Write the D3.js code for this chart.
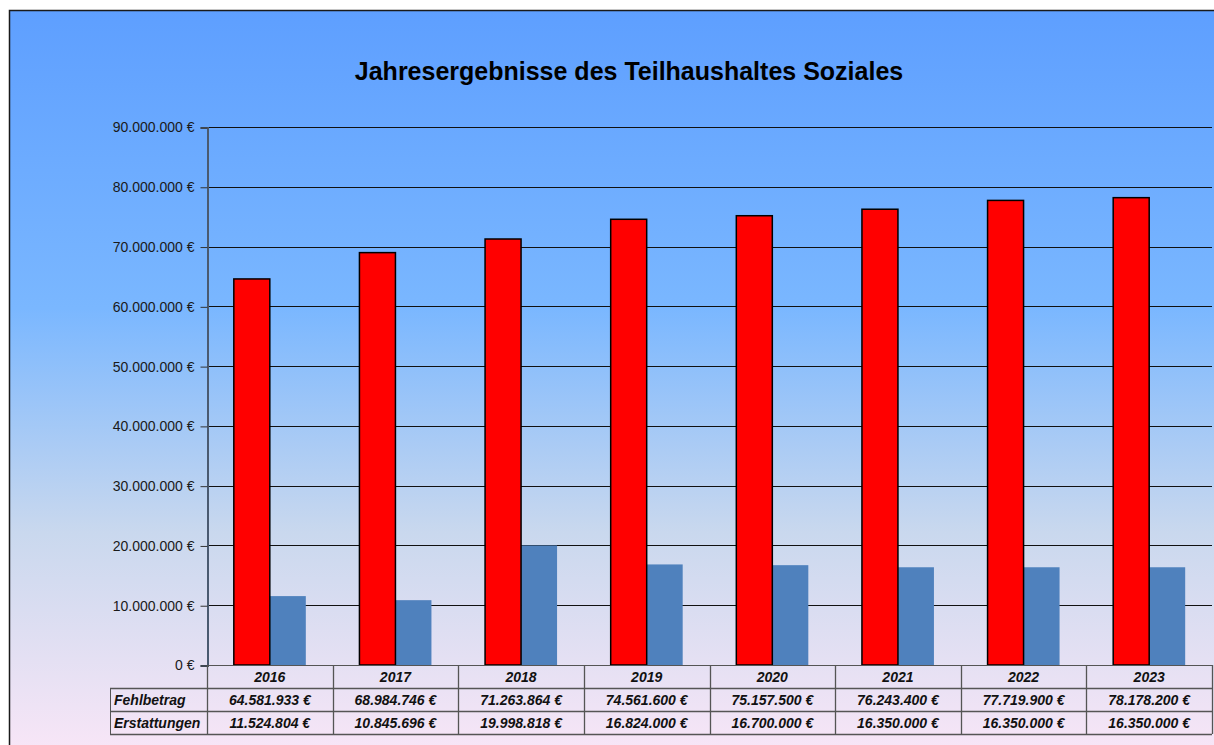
<!DOCTYPE html>
<html>
<head>
<meta charset="utf-8">
<script src="https://cdn.jsdelivr.net/npm/d3@7"></script>
<style>
  body { margin: 0; background: #fff; }
  svg { display: block; font-family: "Liberation Sans", Arial, sans-serif; }
</style>
</head>
<body>
<div id="chart"></div>
<script>
const years = ["2016", "2017", "2018", "2019", "2020", "2021", "2022", "2023"];
const fehlbetrag = [64581933, 68984746, 71263864, 74561600, 75157500, 76243400, 77719900, 78178200];
const erstattungen = [11524804, 10845696, 19998818, 16824000, 16700000, 16350000, 16350000, 16350000];
const yTicks = [0, 10000000, 20000000, 30000000, 40000000, 50000000, 60000000, 70000000, 80000000, 90000000];
const seriesNames = ["Fehlbetrag", "Erstattungen"];

const W = 1214, H = 745;
const plot = {left: 207, right: 1212, top: 127, bottom: 665};
const rowH = 23;

const fmt = v => d3.format(",")(v).replace(/,/g, ".") + " €";

const svg = d3.select("#chart").append("svg")
    .attr("width", W)
    .attr("height", H);

const defs = svg.append("defs");
const grad = defs.append("linearGradient")
    .attr("id", "bg")
    .attr("x1", 0).attr("y1", 0).attr("x2", 0).attr("y2", 1);
grad.append("stop").attr("offset", "0%").attr("stop-color", "#5e9fff");
grad.append("stop").attr("offset", "40%").attr("stop-color", "#7ab7ff");
grad.append("stop").attr("offset", "70%").attr("stop-color", "#c9d8ee");
grad.append("stop").attr("offset", "100%").attr("stop-color", "#f9e6f7");

svg.append("rect")
    .attr("x", 9.5).attr("y", 10.5)
    .attr("width", W).attr("height", H)
    .attr("fill", "url(#bg)")
    .attr("stroke", "#1a1a1a")
    .attr("stroke-width", 1.5);

svg.append("text")
    .attr("x", 629).attr("y", 80)
    .attr("text-anchor", "middle")
    .attr("font-size", 25)
    .attr("font-weight", "bold")
    .attr("fill", "#000")
    .text("Jahresergebnisse des Teilhaushaltes Soziales");

const x = d3.scaleBand()
    .domain(years)
    .range([plot.left, plot.right]);

const xs = d3.scaleBand()
    .domain(seriesNames)
    .range([0, 72]);

const y = d3.scaleLinear()
    .domain([0, 90000000])
    .range([plot.bottom, plot.top]);

// gridlines
svg.append("g")
    .selectAll("line")
    .data(yTicks.slice(1))
    .join("line")
    .attr("x1", plot.left).attr("x2", plot.right)
    .attr("y1", d => Math.round(y(d)) + 0.5)
    .attr("y2", d => Math.round(y(d)) + 0.5)
    .attr("stroke", "#111")
    .attr("stroke-width", 1);

// y axis
const yAxis = d3.axisLeft(y)
    .tickValues(yTicks)
    .tickSize(7)
    .tickPadding(6)
    .tickFormat(fmt);

const gY = svg.append("g")
    .attr("transform", `translate(${plot.left + 0.5},0.5)`)
    .call(yAxis);
gY.select(".domain").attr("stroke", "#4a5a70").attr("stroke-width", 2);
gY.selectAll(".tick line").attr("stroke", "#333");
gY.selectAll(".tick text")
    .attr("font-size", 14)
    .attr("fill", "#1a1a1a")
    .attr("font-family", "'Liberation Sans', Arial, sans-serif");

// bars
const groups = svg.append("g")
    .selectAll("g")
    .data(years.map((yr, i) => ({yr, vals: [fehlbetrag[i], erstattungen[i]]})))
    .join("g")
    .attr("transform", d => `translate(${x(d.yr) + (x.bandwidth() - 72) / 2},0)`);

groups.append("rect")
    .attr("x", 0)
    .attr("width", xs.bandwidth())
    .attr("y", d => y(d.vals[1]))
    .attr("height", d => y(0) - y(d.vals[1]))
    .attr("transform", `translate(${xs("Erstattungen")},0)`)
    .attr("fill", "#4f81bd");

groups.append("rect")
    .attr("x", xs("Fehlbetrag"))
    .attr("width", xs.bandwidth())
    .attr("y", d => y(d.vals[0]))
    .attr("height", d => y(0) - y(d.vals[0]))
    .attr("fill", "#ff0000")
    .attr("stroke", "#000")
    .attr("stroke-width", 1.5);

// data table
const tbl = svg.append("g");
const tLeft = 110;
const rows = [fehlbetrag, erstattungen];
const lineCol = "#555";

// horizontal lines
tbl.append("line")
    .attr("x1", plot.left).attr("x2", plot.right)
    .attr("y1", plot.bottom + 0.5).attr("y2", plot.bottom + 0.5)
    .attr("stroke", lineCol);
[1, 2, 3].forEach(k => {
    tbl.append("line")
        .attr("x1", tLeft).attr("x2", plot.right)
        .attr("y1", plot.bottom + k * rowH + 0.5)
        .attr("y2", plot.bottom + k * rowH + 0.5)
        .attr("stroke", lineCol)
        .attr("stroke-width", 1.3);
});
// vertical lines
tbl.append("line")
    .attr("x1", tLeft + 0.5).attr("x2", tLeft + 0.5)
    .attr("y1", plot.bottom + rowH).attr("y2", plot.bottom + 3 * rowH)
    .attr("stroke", lineCol);
tbl.selectAll(".vl")
    .data(years.concat(["end"]))
    .join("line")
    .attr("x1", d => Math.round(d === "end" ? plot.right : x(d)) + 0.5)
    .attr("x2", d => Math.round(d === "end" ? plot.right : x(d)) + 0.5)
    .attr("y1", plot.bottom).attr("y2", plot.bottom + 3 * rowH)
    .attr("stroke", lineCol)
    .attr("stroke-width", 1.3);

const cellText = sel => sel
    .attr("font-size", 14)
    .attr("font-weight", "bold")
    .attr("font-style", "italic")
    .attr("fill", "#111");

tbl.selectAll(".yr")
    .data(years)
    .join("text")
    .attr("x", d => x(d) + x.bandwidth() / 2)
    .attr("y", plot.bottom + rowH / 2 + 5)
    .attr("text-anchor", "middle")
    .call(cellText)
    .text(d => d);

rows.forEach((vals, r) => {
    tbl.append("text")
        .attr("x", tLeft + 4)
        .attr("y", plot.bottom + (r + 1) * rowH + rowH / 2 + 5)
        .call(cellText)
        .text(seriesNames[r]);
    tbl.selectAll(".v" + r)
        .data(vals)
        .join("text")
        .attr("x", (d, i) => x(years[i]) + x.bandwidth() / 2)
        .attr("y", plot.bottom + (r + 1) * rowH + rowH / 2 + 5)
        .attr("text-anchor", "middle")
        .call(cellText)
        .text(d => fmt(d));
});
</script>
</body>
</html>
